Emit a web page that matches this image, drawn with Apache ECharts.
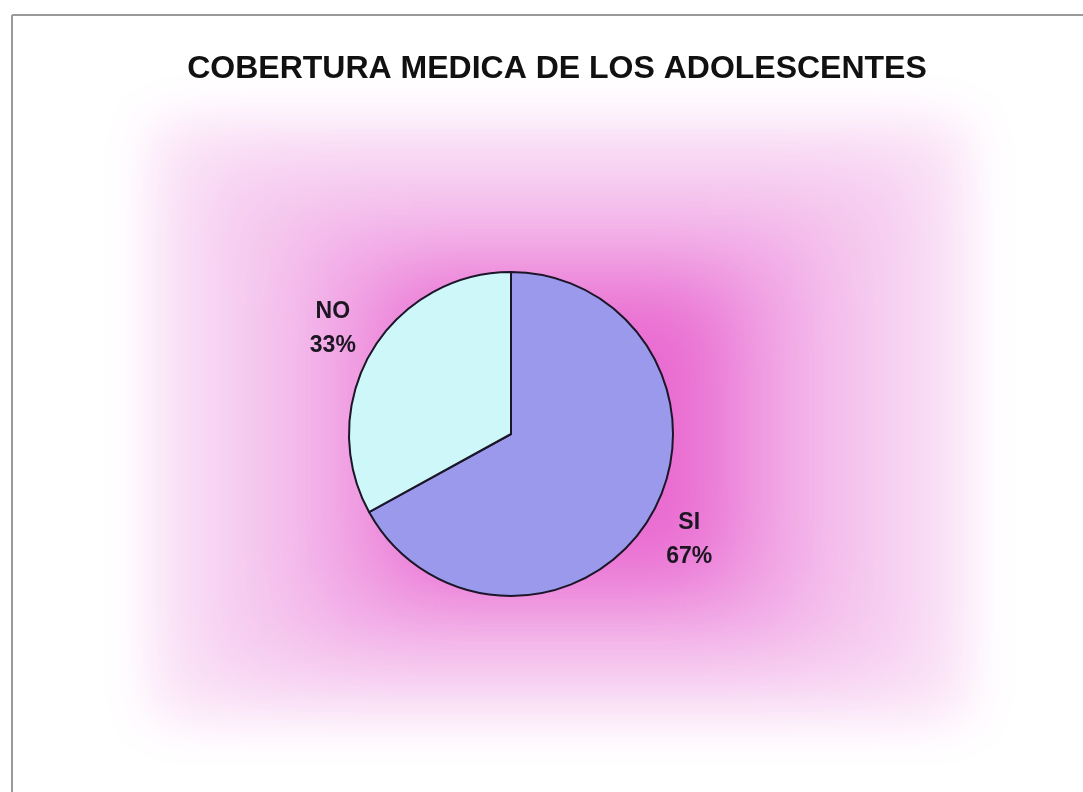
<!DOCTYPE html>
<html>
<head>
<meta charset="utf-8">
<script src="https://cdn.jsdelivr.net/npm/echarts@6/dist/echarts.min.js"></script>
<style>
  html, body { margin: 0; padding: 0; background: #ffffff; }
  #chart { width: 1083px; height: 792px; }
</style>
</head>
<body>
<div id="chart"></div>
<script>
// Chart data
const titleText = 'COBERTURA MEDICA DE LOS ADOLESCENTES';
const categories = ['SI', 'NO'];
const shares = [67, 33];
const sliceColors = ['#9a99ec', '#cdf7f9'];

// Soft pink backdrop: blurred rectangles drawn through their shadow only
const OFF = 4000;
function softRect(x, y, w, h, color, blur) {
  return {
    type: 'rect',
    silent: true,
    z: 0,
    shape: { x: x - OFF, y: y, width: w, height: h },
    style: {
      fill: color,
      shadowColor: color,
      shadowBlur: blur,
      shadowOffsetX: OFF,
      shadowOffsetY: 0
    }
  };
}

const chart = echarts.init(document.getElementById('chart'), null, { renderer: 'canvas' });

chart.setOption({
  backgroundColor: '#ffffff',
  animation: false,
  title: {
    text: titleText,
    left: 552,
    top: 48,
    textAlign: 'center',
    textStyle: {
      fontFamily: 'Liberation Sans, Arial, sans-serif',
      fontWeight: 'bold',
      fontSize: 32,
      color: '#111111'
    }
  },
  graphic: [
    softRect(150, 120, 820, 600, '#fbe6f8', 50),
    softRect(200, 160, 720, 520, '#f6cdf0', 70),
    softRect(290, 220, 540, 420, '#f2b0e8', 80),
    softRect(360, 270, 400, 330, '#ee8edd', 80),
    softRect(410, 300, 300, 270, '#e96ad0', 70),
    // frame lines
    {
      type: 'line', silent: true, z: 1,
      shape: { x1: 12, y1: 15, x2: 1083, y2: 15 },
      style: { stroke: '#9a9a9a', lineWidth: 2 }
    },
    {
      type: 'line', silent: true, z: 1,
      shape: { x1: 12, y1: 15, x2: 12, y2: 792 },
      style: { stroke: '#9a9a9a', lineWidth: 2 }
    }
  ],
  series: [{
    type: 'pie',
    center: [511, 434],
    radius: [0, 162],
    startAngle: 90,
    clockwise: true,
    avoidLabelOverlap: false,
    itemStyle: {
      borderColor: '#1b1628',
      borderWidth: 2
    },
    label: {
      show: true,
      position: 'outside',
      distanceToLabelLine: 0,
      fontFamily: 'Liberation Sans, Arial, sans-serif',
      fontWeight: 'bold',
      fontSize: 23,
      lineHeight: 34,
      color: '#1c1622',
      formatter: function (p) {
        return p.name + '\n' + Math.round(p.percent) + '%';
      }
    },
    labelLine: { show: false, length: 45, length2: 0 },
    labelLayout: function () {
      return { align: 'center', verticalAlign: 'middle' };
    },
    emphasis: { disabled: true },
    data: categories.map(function (name, i) {
      return { name: name, value: shares[i], itemStyle: { color: sliceColors[i] } };
    })
  }]
});
</script>
</body>
</html>
